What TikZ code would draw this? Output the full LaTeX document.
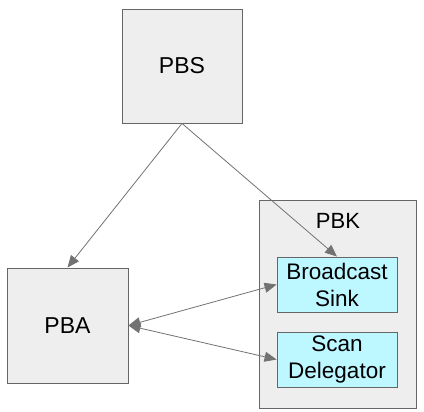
\documentclass[tikz,border=0pt]{standalone}
\usepackage{fontspec}
\setmainfont{Liberation Sans}
\usetikzlibrary{arrows.meta}
\definecolor{boxgray}{HTML}{EEEEEE}
\definecolor{boxline}{HTML}{666666}
\definecolor{boxcyan}{HTML}{BDF7FF}
\definecolor{arrowgray}{HTML}{595959}
\tikzset{
  graybox/.style={draw=boxline, fill=boxgray, line width=0.9pt, inner sep=0pt},
  cyanbox/.style={draw=boxline, fill=boxcyan, line width=0.9pt, inner sep=0pt, minimum width=120pt, minimum height=55pt, align=center, font=\fontsize{22.5}{27}\selectfont},
  link/.style={draw=arrowgray!85, line width=0.8pt, -{Triangle[length=12pt,width=10pt]}},
  biglink/.style={link, {Triangle[length=12pt,width=10pt]}-{Triangle[length=12pt,width=10pt]}}
}
\begin{document}
\begin{tikzpicture}[x=1pt,y=-1pt]
    \useasboundingbox (0,0) rectangle (424,412);
     % Disegna i blocchi
    \node[graybox, minimum width=120pt, minimum height=114pt, font=\fontsize{23}{27}\selectfont] (pbs) at (182,66) {PBS};
    \node[graybox, minimum width=121pt, minimum height=115pt, font=\fontsize{23}{27}\selectfont] (pba) at (67.5,325.5) {PBA};
    \node[graybox, minimum width=157pt, minimum height=208pt] (pbk) at (337.5,304) {};
    \node[font=\fontsize{22}{24}\selectfont, inner sep=0pt] (pbklabel) at (338,221) {PBK};
    \node[cyanbox] (sink) at (337,284.5) {Broadcast\\Sink};
    \node[cyanbox] (scan) at (337,359.5) {Scan\\Delegator};

     % Definizione delle frecce
    \draw[link] (pbs.south) -- (pba.north);
    \draw[link] (pbs.south) -- (sink.north);
    \draw[biglink] (pba.east) -- (sink.west);
    \draw[biglink] (pba.east) -- (scan.west);
\end{tikzpicture}
\end{document}
